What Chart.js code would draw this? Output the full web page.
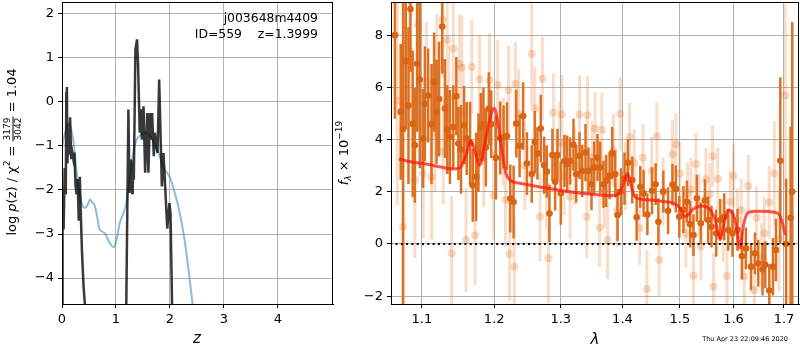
<!DOCTYPE html>
<html>
<head>
<meta charset="utf-8">
<script src="https://cdn.jsdelivr.net/npm/chart.js@4.4.0/dist/chart.umd.min.js"></script>
<style>
  body { margin: 0; background: #fff; }
  #painel { position: relative; width: 800px; height: 350px; }
  canvas { position: absolute; top: 0; }
</style>
</head>
<body>
<div id="painel">
  <canvas id="graficoPz" width="340" height="350" style="left:0"></canvas>
  <canvas id="graficoFlux" width="465" height="350" style="left:335px"></canvas>
</div>
<script>
// painel esquerdo: log p(z)
const zAjuste = [0.0, 0.01, 0.02, 0.03, 0.05, 0.07, 0.08, 0.09, 0.10, 0.12,
  0.13, 0.15, 0.17, 0.19, 0.21, 0.23, 0.25, 0.27, 0.29, 0.31,
  0.33, 0.35, 0.37, 0.40, 0.43, 0.8,
  1.19, 1.23, 1.25, 1.28, 1.30, 1.31, 1.33, 1.36, 1.39, 1.41,
  1.44, 1.46, 1.48, 1.51, 1.54, 1.58, 1.60, 1.63, 1.65, 1.67,
  1.70, 1.72, 1.75, 1.77, 1.80, 1.85, 1.88, 1.95, 1.99, 2.01, 2.04];
const logpAjuste = [-4.7, -2.8, -2.1, -2.9, -1.5, -2.1, 0.2, 0.34, -1.4, -0.6,
  -1.2, -0.35, -1.3, -1.15, -1.3, -1.15, -1.9, -2.1, -1.75, -2.7,
  -1.7, -2.6, -3.4, -4.2, -4.7, null,
  -4.7, -0.17, -2.07, -1.31, -2.07, -1.39, -1.77, 1.19, 1.42, 0.81,
  -0.70, -0.17, -0.86, -0.10, -1.61, -0.25, -1.61, -0.25, -0.86, -0.25,
  -1.23, -0.70, -1.01, -1.16, 0.51, -1.92, -1.16, -2.88, -2.30, -2.52, -4.7];

const zSuave = [0, 0.06, 0.13, 0.2, 0.235, 0.28, 0.33, 0.38, 0.42, 0.47,
  0.52, 0.56, 0.60, 0.65, 0.70, 0.79, 0.88, 0.96, 1.01, 1.07,
  1.14, 1.19, 1.25, 1.31, 1.38, 1.47, 1.56, 1.64, 1.72, 1.81,
  1.90, 1.99, 2.09, 2.18, 2.27, 2.35, 2.45];
const logpSuave = [-1.0, -0.7, -0.49, -0.8, -1.16, -1.7, -2.14, -2.35, -2.41, -2.35,
  -2.22, -2.28, -2.33, -2.6, -2.9, -2.98, -3.2, -3.3, -3.13, -2.75,
  -2.52, -2.3, -1.77, -1.23, -0.86, -0.74, -0.70, -0.78, -0.97, -1.23,
  -1.54, -1.69, -2.07, -2.52, -3.13, -3.89, -4.9];

const ticksZ = [0, 1, 2, 3, 4];
const ticksLogp = [-4, -3, -2, -1, 0, 1, 2];
const nomeObjeto = 'j003648m4409';
const linhaId = 'ID=559    z=1.3999';

// painel direito: espectro
const lambdaEscuro = [1.065, 1.0725, 1.0755, 1.079, 1.0825, 1.0851, 1.088, 1.0908, 1.0938, 1.0973,
  1.1017, 1.104, 1.1084, 1.1129, 1.1164, 1.1196, 1.1231, 1.1273, 1.131, 1.1341,
  1.1378, 1.1424, 1.1466, 1.1494, 1.1531, 1.1573, 1.161, 1.1657, 1.1695, 1.1742,
  1.1775, 1.1809, 1.1846, 1.188, 1.1923, 1.1957, 1.2025, 1.2087, 1.2136, 1.2185,
  1.2234, 1.2283, 1.2323, 1.2372, 1.2425, 1.2482, 1.2554, 1.26, 1.264, 1.2691,
  1.2742, 1.2783, 1.2824, 1.287, 1.2912, 1.2948, 1.3, 1.3057, 1.31, 1.3147,
  1.32, 1.3243, 1.3296, 1.3339, 1.3392, 1.344, 1.3489, 1.3533, 1.3587, 1.3631,
  1.3685, 1.373, 1.3785, 1.3829, 1.388, 1.3918, 1.3975, 1.4035, 1.4094, 1.4167,
  1.4241, 1.4304, 1.4361, 1.4426, 1.4507, 1.457, 1.4618, 1.4706, 1.479, 1.4867,
  1.4928, 1.499, 1.5065, 1.5127, 1.5187, 1.5248, 1.531, 1.5384, 1.5459, 1.552,
  1.5582, 1.567, 1.5746, 1.5822, 1.5899, 1.598, 1.6077, 1.6162, 1.624, 1.634,
  1.6418, 1.6483, 1.6568, 1.6623, 1.6703, 1.6777, 1.6837, 1.6925, 1.7045, 1.7136,
  1.717];
const fluxoEscuro = [8.0, 5.06, 4.4, 7.0, 5.3, 9.0, 4.6, 3.78, 6.9, 6.3,
  4.04, 5.37, 5.69, 4.59, 6.2, 5.06, 5.55, 8.33, 5.19, 4.38,
  4.1, 4.48, 5.66, 3.85, 3.62, 4.55, 4.04, 3.85, 2.25, 2.57,
  3.5, 4.48, 4.59, 3.7, 5.18, 4.59, 3.3, 4.06, 4.1, 4.13,
  1.74, 1.61, 4.61, 3.76, 4.9, 3.08, 2.68, 3.9, 3.47, 4.42,
  3.02, 2.77, 1.17, 3.41, 2.38, 3.41, 1.94, 3.18, 3.06, 3.18,
  3.8, 2.68, 3.38, 2.8, 3.5, 2.8, 2.29, 2.93, 3.31, 2.93,
  2.29, 2.42, 2.61, 3.48, 2.68, 1.11, 2.0, 2.5, 3.11, 2.45,
  1.02, 2.19, 1.94, 1.13, 2.04, 2.29, 0.85, 2.01, 1.27, 2.27,
  2.11, 1.04, 1.32, 1.62, 0.76, 0.34, 1.75, 0.79, 1.67, 0.92,
  0.66, 0.41, 0.92, 1.04, 0.54, 0.41, 0.54, -0.46, -0.17, -0.87,
  -0.36, -0.74, -0.97, -0.8, -1.78, -0.87, -0.23, 3.19, 0.0, 1.0,
  2.0];
const erroEscuro = [3.2, 2.6, 7.0, 2.6, 3.0, 2.4, 2.8, 2.2, 2.6, 3.4,
  1.9, 2.2, 1.8, 2.3, 1.9, 2.0, 2.2, 1.8, 1.9, 1.7,
  1.8, 1.6, 1.5, 1.4, 1.7, 1.5, 1.4, 1.6, 1.4, 1.7,
  1.5, 1.3, 1.4, 1.5, 1.4, 1.3, 1.6, 1.4, 1.2, 1.3,
  1.3, 1.4, 1.3, 1.2, 1.3, 1.2, 1.1, 1.2, 1.0, 1.3,
  1.1, 1.0, 1.1, 1.0, 1.1, 1.0, 1.2, 1.0, 1.1, 0.9,
  1.0, 1.1, 0.9, 1.0, 1.1, 0.9, 1.0, 1.0, 0.9, 1.0,
  0.9, 1.0, 0.9, 1.0, 0.9, 1.0, 0.9, 1.0, 0.9, 0.9,
  0.9, 0.8, 0.9, 0.8, 0.9, 0.8, 0.9, 0.8, 0.9, 0.8,
  0.9, 0.8, 0.9, 0.8, 0.9, 0.8, 0.9, 0.8, 0.8, 0.9,
  0.8, 0.9, 0.8, 0.9, 0.8, 0.9, 0.8, 0.9, 0.8, 0.9,
  0.8, 0.9, 1.0, 0.9, 1.0, 1.1, 1.2, 3.2, 2.5, 3.5,
  6.5];

const lambdaClaro = [1.068, 1.0755, 1.0842, 1.0908, 1.0951, 1.1017, 1.106, 1.1129, 1.1173, 1.12,
  1.1278, 1.1286, 1.1341, 1.136, 1.1401, 1.1424, 1.1508, 1.1541, 1.156, 1.1601,
  1.1681, 1.1728, 1.1789, 1.185, 1.1933, 1.1991, 1.205, 1.213, 1.2164, 1.2209,
  1.2224, 1.2294, 1.2309, 1.2358, 1.245, 1.2554, 1.26, 1.268, 1.2716, 1.278,
  1.2809, 1.2885, 1.2984, 1.3017, 1.305, 1.3147, 1.322, 1.3296, 1.3413, 1.3424,
  1.35, 1.3547, 1.3621, 1.3659, 1.37, 1.3752, 1.385, 1.3911, 1.3964, 1.405,
  1.4121, 1.42, 1.4293, 1.435, 1.4419, 1.45, 1.4593, 1.4632, 1.47, 1.4867,
  1.4928, 1.5, 1.5109, 1.5139, 1.52, 1.5248, 1.5292, 1.535, 1.5384, 1.5477,
  1.555, 1.5601, 1.562, 1.57, 1.58, 1.5873, 1.5938, 1.6, 1.6077, 1.615,
  1.6209, 1.6286, 1.6405, 1.645, 1.655, 1.6603, 1.67, 1.6805, 1.69, 1.7025];
const fluxoClaro = [5.5, 0.66, 7.4, 2.45, 8.4, 2.7, 6.2, 2.57, 4.2, 6.7,
  8.59, 3.53, 7.82, 5.6, -0.36, 7.48, 6.9, 6.75, 5.0, 0.15,
  6.78, 0.33, 6.31, 3.2, 6.27, 1.87, 6.1, 3.9, 1.68, 5.89,
  -0.38, -0.87, 6.14, 4.99, 3.0, 7.29, 5.2, 1.04, 6.33, 2.2,
  -0.55, 5.03, 3.85, 4.97, 2.6, 1.81, 3.0, 4.96, 1.04, 4.93,
  3.3, 4.42, 0.62, 4.38, 2.0, 0.15, 3.6, 1.27, 4.99, 2.6,
  4.1, 3.1, 0.6, 3.3, -1.73, 2.8, 4.13, -0.61, 2.0, 3.44,
  3.82, 2.7, 0.41, 1.94, 2.1, -1.22, 3.06, 1.5, -0.1, 2.47,
  1.9, 3.36, -1.63, 2.5, 0.5, -1.22, 1.62, 2.6, 0.92, 1.3,
  -1.25, 2.22, -1.76, 1.0, -0.5, 0.41, 1.6, 2.7, 0.2, 5.69];
const erroClaro = [4.0, 3.5, 2.8, 3.0, 2.5, 2.5, 2.3, 2.4, 2.2, 2.1,
  2.2, 2.0, 2.0, 2.0, 2.2, 2.0, 1.9, 2.0, 1.9, 2.0,
  1.8, 1.9, 1.7, 1.8, 1.8, 1.7, 1.7, 1.7, 1.8, 1.7,
  1.8, 1.9, 1.6, 1.7, 1.7, 2.0, 1.6, 1.7, 1.6, 1.6,
  1.7, 1.5, 1.6, 1.5, 1.5, 1.6, 1.5, 1.5, 1.6, 1.5,
  1.4, 1.4, 1.5, 1.4, 1.4, 1.5, 1.4, 1.4, 1.4, 1.3,
  1.3, 1.3, 1.4, 1.3, 1.5, 1.3, 1.3, 1.4, 1.3, 1.3,
  1.2, 1.2, 1.3, 1.2, 1.2, 1.3, 1.2, 1.2, 1.3, 1.2,
  1.2, 1.2, 1.3, 1.2, 1.2, 1.3, 1.2, 1.2, 1.2, 1.2,
  1.3, 1.2, 1.3, 1.2, 1.3, 1.4, 1.4, 2.0, 2.0, 3.5];

const lambdaModelo = [1.07, 1.085, 1.1017, 1.12, 1.1424, 1.152, 1.16, 1.167, 1.173, 1.179,
  1.185, 1.192, 1.2, 1.205, 1.21, 1.216, 1.223, 1.24, 1.26, 1.3,
  1.342, 1.38, 1.393, 1.4, 1.405, 1.409, 1.414, 1.42, 1.43, 1.45,
  1.47, 1.49, 1.5, 1.508, 1.515, 1.525, 1.54, 1.555, 1.565, 1.5746,
  1.583, 1.59, 1.6, 1.606, 1.6125, 1.619, 1.628, 1.65, 1.67, 1.688,
  1.697, 1.7025];
const fluxoModelo = [3.25, 3.15, 3.08, 2.98, 2.87, 2.92, 3.4, 3.95, 3.5, 3.02,
  3.6, 4.6, 5.2, 4.7, 3.8, 2.8, 2.45, 2.32, 2.22, 2.05,
  1.92, 1.85, 1.9, 2.2, 2.55, 2.7, 2.3, 1.85, 1.72, 1.68,
  1.63, 1.55, 1.38, 1.05, 1.12, 1.35, 1.45, 1.32, 0.92, 0.2,
  0.92, 1.3, 1.1, 0.6, -0.15, 0.7, 1.2, 1.25, 1.24, 1.17,
  0.8, 0.34];

const ticksLambda = [1.1, 1.2, 1.3, 1.4, 1.5, 1.6, 1.7];
const ticksFluxo = [-2, 0, 2, 4, 6, 8];
const dataGerada = 'Thu Apr 23 22:09:46 2020';

Chart.defaults.font.family = '"DejaVu Sans", sans-serif';
Chart.defaults.font.size = 13;
Chart.defaults.color = '#000';

const menos = v => String(v).replace('-', '\u2212');

function pontos(xs, ys) {
    return xs.map((x, i) => ({ x: x, y: ys[i] }));
}

function barrasErro(lam, flux, erro) {
    const pts = [];
    lam.forEach((l, i) => {
        pts.push({ x: l, y: flux[i] - erro[i] }, { x: l, y: flux[i] + erro[i] }, { x: l, y: null });
    });
    return pts;
}

// escreve uma sequência de pedaços de texto (com sobrescrito / fração) centrada em (cx, cy)
function escreveRico(ctx, partes, cx, cy) {
    let total = 0;
    partes.forEach(p => {
        ctx.font = p.f;
        p.w = p.num ? Math.max(ctx.measureText(p.num).width, ctx.measureText(p.den).width) + 2
                    : ctx.measureText(p.t).width;
        total += p.w;
    });
    let x = cx - total / 2;
    ctx.textBaseline = 'middle';
    partes.forEach(p => {
        ctx.font = p.f;
        if (p.num) {
            ctx.textAlign = 'center';
            ctx.fillText(p.num, x + p.w / 2, cy - 5);
            ctx.fillText(p.den, x + p.w / 2, cy + 6);
            ctx.fillRect(x, cy - 0.5, p.w, 1);
        } else {
            ctx.textAlign = 'left';
            ctx.fillText(p.t, x, cy + (p.dy || 0));
        }
        x += p.w;
    });
}

const fonte = '13px "DejaVu Sans"';
const fonteIt = 'italic 13px "DejaVu Sans"';
const fontePeq = '9px "DejaVu Sans"';

const moldura = {
    id: 'moldura',
    afterDraw(chart) {
        const a = chart.chartArea;
        const ctx = chart.ctx;
        ctx.save();
        ctx.strokeStyle = '#000';
        ctx.lineWidth = 1;
        ctx.strokeRect(Math.round(a.left) + 0.5, Math.round(a.top) + 0.5,
            Math.round(a.right - a.left) - 1, Math.round(a.bottom - a.top));
        ctx.restore();
    }
};

const textosPz = {
    id: 'textosPz',
    afterDraw(chart) {
        const ctx = chart.ctx;
        ctx.save();
        ctx.fillStyle = '#000';
        ctx.font = '12.4px "DejaVu Sans"';
        ctx.textAlign = 'right';
        ctx.textBaseline = 'middle';
        ctx.fillText(nomeObjeto, 318, 19);
        ctx.fillText(linhaId, 318, 35);
        ctx.font = 'italic 15px "DejaVu Sans"';
        ctx.textAlign = 'center';
        ctx.fillText('z', 197, 339);
        ctx.translate(13, 152);
        ctx.rotate(-Math.PI / 2);
        escreveRico(ctx, [
            { t: 'log ', f: fonte },
            { t: 'p', f: fonteIt },
            { t: '(z) / \u03c7', f: fonte },
            { t: '2', f: fontePeq, dy: -5 },
            { t: ' = ', f: fonte },
            { num: '3179', den: '3042', f: fontePeq },
            { t: ' = 1.04', f: fonte }
        ], 0, 0);
        ctx.restore();
    }
};

const textosFlux = {
    id: 'textosFlux',
    afterDraw(chart) {
        const ctx = chart.ctx;
        ctx.save();
        ctx.fillStyle = '#000';
        ctx.font = 'italic 15px "DejaVu Sans"';
        ctx.textAlign = 'center';
        ctx.textBaseline = 'middle';
        ctx.fillText('\u03bb', 260, 340);
        ctx.font = '6.5px "DejaVu Sans"';
        ctx.textAlign = 'right';
        ctx.fillText(dataGerada, 453, 339);
        ctx.translate(10, 153);
        ctx.rotate(-Math.PI / 2);
        escreveRico(ctx, [
            { t: 'f', f: fonteIt },
            { t: '\u03bb', f: 'italic 9px "DejaVu Sans"', dy: 4 },
            { t: ' \u00d7 10', f: fonte },
            { t: '\u221219', f: fontePeq, dy: -5 }
        ], 0, 0);
        ctx.restore();
    }
};

function grade() {
    return { color: '#b0b0b0', lineWidth: 1, tickColor: '#000', tickLength: 4 };
}

function fixaLargura(w) {
    return function (scale) { scale.width = w; scale.paddingTop = 0; scale.paddingBottom = 0; };
}

function fixaAltura(h) {
    return function (scale) { scale.height = h; scale.paddingLeft = 0; scale.paddingRight = 0; };
}

new Chart(document.getElementById('graficoPz'), {
    type: 'scatter',
    data: {
        datasets: [{
            data: pontos(zAjuste, logpAjuste),
            showLine: true,
            spanGaps: false,
            borderColor: 'rgba(0,0,0,0.78)',
            borderWidth: 2.5,
            pointRadius: 0,
            clip: 0
        }, {
            data: pontos(zSuave, logpSuave),
            showLine: true,
            borderColor: 'rgba(31,119,180,0.5)',
            borderWidth: 2,
            tension: 0.3,
            pointRadius: 0,
            clip: 0
        }]
    },
    options: {
        responsive: false,
        animation: false,
        devicePixelRatio: 1,
        layout: { autoPadding: false, padding: { left: 0, right: 7, top: 2, bottom: 0 } },
        plugins: { legend: { display: false }, tooltip: { enabled: false } },
        scales: {
            x: {
                type: 'linear', min: 0, max: 5.02,
                grid: grade(),
                border: { color: '#000' },
                ticks: { stepSize: 1, includeBounds: false, padding: 4, maxRotation: 0, callback: menos },
                afterBuildTicks: s => { s.ticks = ticksZ.map(v => ({ value: v })); },
                afterFit: fixaAltura(46)
            },
            y: {
                min: -4.59, max: 2.27,
                grid: grade(),
                border: { color: '#000' },
                ticks: { stepSize: 1, includeBounds: false, padding: 4, callback: menos },
                afterBuildTicks: s => { s.ticks = ticksLogp.map(v => ({ value: v })); },
                afterFit: fixaLargura(62)
            }
        }
    },
    plugins: [moldura, textosPz]
});

new Chart(document.getElementById('graficoFlux'), {
    type: 'scatter',
    data: {
        datasets: [{
            data: [{ x: 1.0, y: 0 }, { x: 1.8, y: 0 }],
            showLine: true,
            borderColor: '#000',
            borderWidth: 2,
            borderDash: [2, 3.3],
            pointRadius: 0,
            clip: 0
        }, {
            data: pontos(lambdaModelo, fluxoModelo),
            showLine: true,
            borderColor: 'rgba(255,20,10,0.72)',
            borderWidth: 3,
            cubicInterpolationMode: 'monotone',
            pointRadius: 0,
            clip: 0
        }, {
            data: pontos(lambdaEscuro, fluxoEscuro),
            pointRadius: 3.3,
            pointBorderWidth: 0,
            pointBackgroundColor: 'rgb(217,100,20)',
            clip: 0
        }, {
            data: barrasErro(lambdaEscuro, fluxoEscuro, erroEscuro),
            showLine: true,
            spanGaps: false,
            borderColor: 'rgb(222,112,34)',
            borderWidth: 2.5,
            borderCapStyle: 'butt',
            pointRadius: 0,
            clip: 0
        }, {
            data: pontos(lambdaClaro, fluxoClaro),
            pointRadius: 4,
            pointBorderWidth: 0,
            pointBackgroundColor: 'rgba(230,120,40,0.28)',
            clip: 0
        }, {
            data: barrasErro(lambdaClaro, fluxoClaro, erroClaro),
            showLine: true,
            spanGaps: false,
            borderColor: 'rgba(230,120,40,0.25)',
            borderWidth: 3,
            borderCapStyle: 'butt',
            pointRadius: 0,
            clip: 0
        }]
    },
    options: {
        responsive: false,
        animation: false,
        devicePixelRatio: 1,
        layout: { autoPadding: false, padding: { left: 0, right: 1, top: 2, bottom: 0 } },
        plugins: { legend: { display: false }, tooltip: { enabled: false } },
        scales: {
            x: {
                type: 'logarithmic', min: 1.06, max: 1.731,
                z: 1,
                grid: grade(),
                border: { color: '#000' },
                ticks: { padding: 4, maxRotation: 0, autoSkip: false, callback: v => Number(v).toFixed(1) },
                afterBuildTicks: s => { s.ticks = ticksLambda.map(v => ({ value: v })); },
                afterFit: fixaAltura(46)
            },
            y: {
                type: 'linear', min: -2.3, max: 9.27,
                z: 1,
                grid: grade(),
                border: { color: '#000' },
                ticks: { padding: 4, callback: menos },
                afterBuildTicks: s => { s.ticks = ticksFluxo.map(v => ({ value: v })); },
                afterFit: fixaLargura(56)
            }
        }
    },
    plugins: [moldura, textosFlux]
});
</script>
</body>
</html>
